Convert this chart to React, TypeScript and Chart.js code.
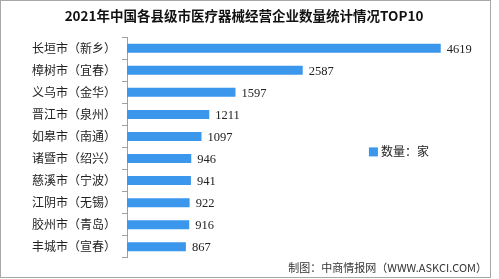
import React, { useEffect, useRef } from "react";
import { Chart, registerables } from "chart.js";

Chart.register(...registerables);

const titleText = "2021年中国各县级市医疗器械经营企业数量统计情况TOP10";
const sourceText = "制图：中商情报网（WWW.ASKCI.COM）";
const seriesLabel = "数量：家";
const categories = [
  "长垣市（新乡）",
  "樟树市（宜春）",
  "义乌市（金华）",
  "晋江市（泉州）",
  "如皋市（南通）",
  "诸暨市（绍兴）",
  "慈溪市（宁波）",
  "江阴市（无锡）",
  "胶州市（青岛）",
  "丰城市（宣春）",
];
const values = [4619, 2587, 1597, 1211, 1097, 946, 941, 922, 916, 867];

const BAR_COLOR = "#3a97ec";
const CJK = '"Noto Sans CJK SC", "Noto Sans", sans-serif';

export default function App() {
  const ref = useRef<HTMLCanvasElement | null>(null);

  useEffect(() => {
    document.body.style.margin = "0";
    const canvas = ref.current;
    if (!canvas) return;

    const bgPlugin = {
      id: "bg",
      beforeDraw(chart: any) {
        const ctx = chart.ctx;
        ctx.save();
        ctx.fillStyle = "#ffffff";
        ctx.fillRect(0, 0, chart.width, chart.height);
        ctx.restore();
      },
    };

    const labelPlugin = {
      id: "valueLabels",
      afterDatasetsDraw(chart: any) {
        const ctx = chart.ctx;
        const meta = chart.getDatasetMeta(0);
        ctx.save();
        ctx.font = '12.5px "Liberation Serif", serif';
        ctx.fillStyle = "#222";
        ctx.textAlign = "left";
        ctx.textBaseline = "middle";
        meta.data.forEach((bar: any, i: number) => {
          ctx.fillText(String(chart.data.datasets[0].data[i]), bar.x + 6, bar.y + 1);
        });
        ctx.restore();
      },
    };

    const legendPlugin = {
      id: "innerLegend",
      afterDraw(chart: any) {
        const ctx = chart.ctx;
        const a = chart.chartArea;
        const x = a.left + (a.right - a.left) * 0.672;
        const y = a.top + (a.bottom - a.top) * 0.52;
        ctx.save();
        ctx.fillStyle = BAR_COLOR;
        ctx.fillRect(x, y - 4.5, 9, 9);
        ctx.fillStyle = "#222";
        ctx.font = "12px " + CJK;
        ctx.textAlign = "left";
        ctx.textBaseline = "middle";
        ctx.fillText(chart.data.datasets[0].label, x + 12, y);
        ctx.restore();
      },
    };

    const chart = new Chart(canvas, {
      type: "bar",
      data: {
        labels: categories,
        datasets: [
          {
            label: seriesLabel,
            data: values,
            backgroundColor: BAR_COLOR,
            barPercentage: 0.82,
            categoryPercentage: 0.5,
          },
        ],
      },
      options: {
        indexAxis: "y",
        animation: false,
        responsive: false,
        maintainAspectRatio: false,
        layout: { padding: { top: 0, right: 3, bottom: 3, left: 0 } },
        plugins: {
          legend: { display: false },
          tooltip: { enabled: false },
          title: {
            display: true,
            text: titleText,
            color: "#111",
            font: { family: CJK, size: 13.5, weight: "bold" },
            padding: { top: 7, bottom: 13 },
          },
          subtitle: {
            display: true,
            text: sourceText,
            position: "bottom",
            align: "end",
            color: "#333",
            font: { family: CJK, size: 11 },
            padding: { top: 3, bottom: 0 },
          },
        },
        scales: {
          x: {
            display: false,
            min: 0,
            max: 5300,
          },
          y: {
            afterFit: (s: any) => {
              s.width = 126;
            },
            grid: {
              display: true,
              drawOnChartArea: false,
              offset: true,
              tickLength: 5,
              color: "#a0a0a0",
            },
            border: { display: true, color: "#a0a0a0" },
            ticks: {
              color: "#222",
              padding: 6,
              font: { family: CJK, size: 12 },
            },
          },
        },
      },
      plugins: [bgPlugin, labelPlugin, legendPlugin],
    });

    return () => chart.destroy();
  }, []);

  return (
    <div style={{ width: 489, height: 276, border: "1px solid #a8a8a8", background: "#fff" }}>
      <canvas ref={ref} width={489} height={276} style={{ display: "block" }} />
    </div>
  );
}
